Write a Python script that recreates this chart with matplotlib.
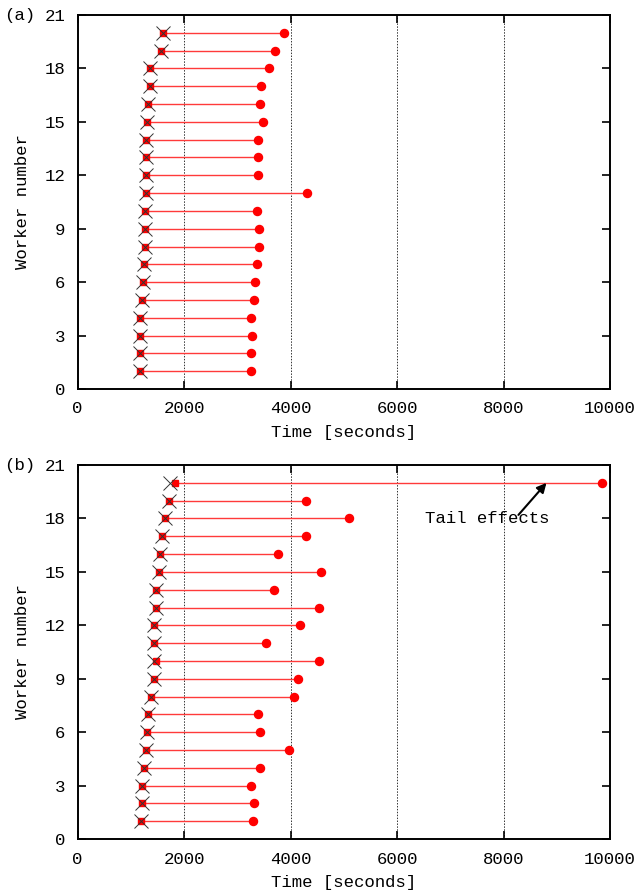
import numpy as np
import matplotlib
matplotlib.use("Agg")
import matplotlib.pyplot as plt

plt.rcParams['font.family'] = ['Liberation Mono', 'DejaVu Sans Mono']
plt.rcParams['font.size'] = 12.5

workers = np.arange(1, 21)

# panel (a)
a_job_start = [1173, 1173, 1179, 1179, 1211, 1224, 1254, 1261, 1267, 1273,
               1280, 1280, 1286, 1291, 1298, 1323, 1355, 1367, 1561, 1611]
a_task_start = a_job_start
a_end = [3248, 3254, 3278, 3254, 3310, 3340, 3372, 3410, 3397, 3372,
         4306, 3391, 3378, 3378, 3479, 3416, 3453, 3598, 3711, 3880]

# panel (b)
b_job_start = [1198, 1205, 1211, 1242, 1292, 1298, 1318, 1386, 1436, 1436,
               1436, 1442, 1474, 1474, 1536, 1555, 1586, 1637, 1712, 1737]
b_task_start = [1198, 1205, 1211, 1242, 1292, 1298, 1318, 1386, 1436, 1474,
                1436, 1442, 1474, 1474, 1536, 1555, 1586, 1637, 1712, 1825]
b_end = [3291, 3303, 3265, 3434, 3974, 3422, 3378, 4055, 4130, 4538,
         3536, 4175, 4538, 3686, 4570, 3761, 4287, 5101, 4287, 9844]

xticks = [0, 2000, 4000, 6000, 8000, 10000]
yticks = [0, 3, 6, 9, 12, 15, 18, 21]

fig = plt.figure(figsize=(6.4, 8.94), dpi=100)
ax_a = fig.add_axes([0.1213, 0.5649, 0.832, 0.4183])
ax_b = fig.add_axes([0.1213, 0.0615, 0.832, 0.4183])


def draw(ax, job_start, task_start, end, tag):
    ax.hlines(workers, task_start, end, color='#ff3a3a', lw=1.0, zorder=2)
    ax.plot(task_start, workers, 's', color='#ff0000', ms=5, mec='#ff0000', zorder=3, ls='none')
    ax.plot(end, workers, 'o', color='#ff0000', ms=5.8, mec='#ff0000', zorder=3, ls='none')
    ax.plot(job_start, workers, 'x', color='#333333', ms=10, mew=0.7, zorder=4, ls='none')
    ax.set_xlim(0, 10000)
    ax.set_ylim(0, 21)
    ax.set_xticks(xticks)
    ax.set_yticks(yticks)
    for gx in xticks[1:-1]:
        ax.axvline(gx, color='#333333', lw=0.7, ls=(0, (1.5, 1.5)), zorder=1)
    ax.tick_params(direction='in', length=6, width=1.2, top=True, right=True, pad=9)
    for s in ax.spines.values():
        s.set_linewidth(1.4)
    ax.set_xlabel('Time [seconds]', labelpad=6)
    ax.set_ylabel('Worker number', labelpad=10)
    # panel tag at the far left, level with the top tick label
    ax.text(-0.138, 1.0, tag, transform=ax.transAxes, ha='left', va='center')


draw(ax_a, a_job_start, a_task_start, a_end, '(a)')
draw(ax_b, b_job_start, b_task_start, b_end, '(b)')

ax_b.annotate('', xy=(8805, 20.0), xytext=(8278, 18.2),
              arrowprops=dict(arrowstyle='-|>', color='black', lw=1.5,
                              mutation_scale=14, shrinkA=0, shrinkB=0))
ax_b.text(7697, 18.0, 'Tail effects', ha='center', va='center')

fig.savefig('out.png', dpi=100)
